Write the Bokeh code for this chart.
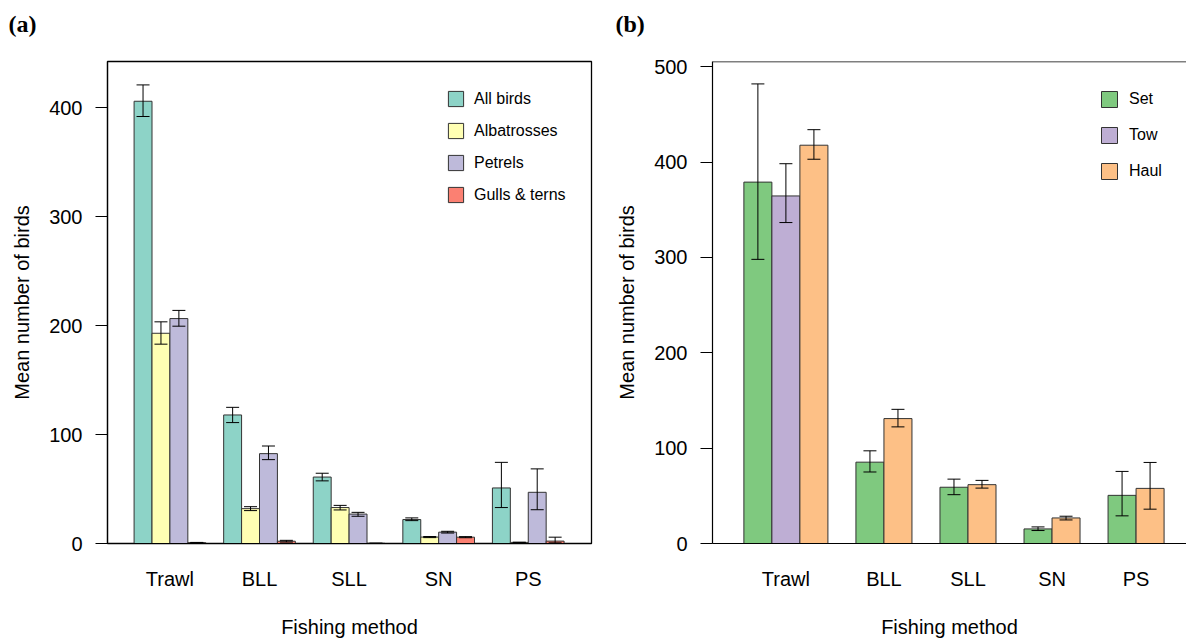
import math
from bokeh.plotting import figure
from bokeh.models import (Range1d, FixedTicker, Whisker, TeeHead, ColumnDataSource,
                          Span)
from bokeh.core.properties import value
from bokeh.layouts import row, column
from bokeh.embed import file_html
from bokeh.resources import INLINE

# ---------------- data: panel (a) ----------------
methods = ["Trawl", "BLL", "SLL", "SN", "PS"]
series_a = ["All birds", "Albatrosses", "Petrels", "Gulls & terns"]
colors_a = ["#8DD3C7", "#FFFFB3", "#BEBADA", "#FB8072"]

all_birds = [406, 118, 61, 22, 51]
all_birds_lo = [392, 111, 57.5, 21, 33]
all_birds_hi = [421, 125, 64.5, 23.5, 74.5]

albatrosses = [193, 32, 33, 5.9, 1.0]
albatrosses_lo = [183, 30.2, 30.8, 5.4, 0.8]
albatrosses_hi = [203.5, 33.8, 35, 6.4, 1.2]

petrels = [206.5, 82.5, 27, 10.4, 47]
petrels_lo = [199.5, 77, 25, 9.6, 31]
petrels_hi = [214, 89.5, 28.6, 11.2, 68.5]

gulls = [0.8, 2.1, 0.2, 5.8, 2.2]
gulls_lo = [0.6, 1.3, 0.1, 5.3, 0.6]
gulls_hi = [1.0, 2.9, 0.3, 6.3, 5.8]

# ---------------- data: panel (b) ----------------
series_b = ["Set", "Tow", "Haul"]
colors_b = ["#7FC97F", "#BEAED4", "#FDC086"]

set_vals = [379, 85.3, 59, 15.3, 50.5]
set_lo = [298, 75, 51.2, 13.6, 29]
set_hi = [482, 97.2, 67.5, 17.4, 75.6]

tow_vals = [364.5, None, None, None, None]
tow_lo = [336.6, None, None, None, None]
tow_hi = [398.3, None, None, None, None]

haul_vals = [417.7, 131, 61.7, 26.8, 57.8]
haul_lo = [403, 122.3, 58.1, 24.7, 36]
haul_hi = [434, 140.7, 66.2, 28.6, 85]

yticks_a = [0, 100, 200, 300, 400]
yticks_b = [0, 100, 200, 300, 400, 500]

panel_tags = ["(a)", "(b)"]

FONT = "Liberation Sans"
HEADER_H = 40
TOTAL_H = 640


def style_axes(p, yticks, centers):
    p.xgrid.visible = False
    p.ygrid.visible = False
    ya = p.yaxis[0]
    ya.ticker = FixedTicker(ticks=yticks)
    ya.minor_tick_line_color = None
    ya.major_tick_out = 12
    ya.major_tick_in = 0
    ya.major_tick_line_color = "black"
    ya.major_tick_line_width = 1.2
    ya.axis_line_color = "black"
    ya.axis_line_width = 1.2
    ya.major_label_standoff = 13
    ya.major_label_text_font = FONT
    ya.major_label_text_font_size = "20px"
    ya.major_label_text_color = "black"
    ya.axis_label = "Mean number of birds"
    ya.axis_label_text_font = FONT
    ya.axis_label_text_font_size = "20px"
    ya.axis_label_text_font_style = "normal"
    ya.axis_label_text_color = "black"
    ya.axis_label_standoff = 13

    xa = p.xaxis[0]
    xa.ticker = FixedTicker(ticks=centers)
    xa.major_label_overrides = {float(c): m for c, m in zip(centers, methods)}
    xa.major_tick_line_color = None
    xa.minor_tick_line_color = None
    xa.major_tick_out = 0
    xa.major_tick_in = 0
    xa.major_label_standoff = 24
    xa.major_label_text_font = FONT
    xa.major_label_text_font_size = "20px"
    xa.major_label_text_color = "black"
    xa.axis_label = "Fishing method"
    xa.axis_label_text_font = FONT
    xa.axis_label_text_font_size = "20px"
    xa.axis_label_text_font_style = "normal"
    xa.axis_label_text_color = "black"
    xa.axis_label_standoff = 23


def add_whiskers(p, xs, lo, hi):
    src = ColumnDataSource(dict(base=xs, lower=lo, upper=hi))
    w = Whisker(source=src, base="base", lower="lower", upper="upper",
                dimension="height", line_color="black", line_width=1,
                upper_head=TeeHead(size=13, line_color="black", line_width=1),
                lower_head=TeeHead(size=13, line_color="black", line_width=1),
                level="annotation")
    p.add_layout(w)


def header(width, tag, tag_x):
    # a bare strip holding the panel tag, in pixel-like coordinates (y downwards)
    h = figure(width=width, height=HEADER_H, output_backend="svg", toolbar_location=None,
               x_range=Range1d(0, width), y_range=Range1d(HEADER_H, 0),
               min_border=0, x_axis_type=None, y_axis_type=None)
    h.outline_line_color = None
    h.xgrid.visible = False
    h.ygrid.visible = False
    h.text(x=[tag_x], y=[23], text=[tag], text_font=value("Liberation Serif"),
           text_font_style="bold", text_font_size="24px", text_baseline="middle",
           text_align="left", text_color="black")
    return h


# ---------------- panel (a) ----------------
pa = figure(width=600, height=TOTAL_H - HEADER_H, output_backend="svg", toolbar_location=None,
            x_range=Range1d(-1.484, 25.53), y_range=Range1d(0, 442.5),
            min_border_left=107, min_border_right=9, min_border_top=61 - HEADER_H,
            min_border_bottom=95)
pa.outline_line_color = "black"
pa.outline_line_width = 1.3
pa.outline_line_alpha = 1.0
pa.background_fill_color = "white"

vals_a = [all_birds, albatrosses, petrels, gulls]
los_a = [all_birds_lo, albatrosses_lo, petrels_lo, gulls_lo]
his_a = [all_birds_hi, albatrosses_hi, petrels_hi, gulls_hi]
n_a = len(series_a)
centers_a = [g * (n_a + 1) + n_a / 2 for g in range(len(methods))]
for k, name in enumerate(series_a):
    xs = [g * (n_a + 1) + k + 0.5 for g in range(len(methods))]
    pa.vbar(x=xs, top=vals_a[k], bottom=0, width=1, fill_color=colors_a[k],
            line_color="#333333", line_width=1, legend_label=name)
    add_whiskers(pa, xs, los_a[k], his_a[k])

style_axes(pa, yticks_a, centers_a)
lg = pa.legend[0]
lg.location = (339, 339)
lg.padding = 0
lg.margin = 0
lg.spacing = 13
lg.glyph_height = 19
lg.glyph_width = 19
lg.label_height = 19
lg.label_standoff = 9
lg.border_line_color = None
lg.background_fill_alpha = 0
lg.label_text_font = FONT
lg.label_text_font_size = "16px"
lg.label_text_color = "black"

# ---------------- panel (b) ----------------
pb = figure(width=586, height=TOTAL_H - HEADER_H, output_backend="svg", toolbar_location=None,
            x_range=Range1d(-1.12, 15.80), y_range=Range1d(0, 505.5),
            min_border_left=112, min_border_right=0, min_border_top=61 - HEADER_H,
            min_border_bottom=95)
pb.outline_line_color = None
pb.background_fill_color = "white"

vals_b = [set_vals, tow_vals, haul_vals]
los_b = [set_lo, tow_lo, haul_lo]
his_b = [set_hi, tow_hi, haul_hi]
bar_x = {k: [] for k in range(len(series_b))}
bar_top = {k: [] for k in range(len(series_b))}
bar_lo = {k: [] for k in range(len(series_b))}
bar_hi = {k: [] for k in range(len(series_b))}
centers_b = []
pos = 0
for g in range(len(methods)):
    group_x = []
    for k in range(len(series_b)):
        v = vals_b[k][g]
        if v is None:
            continue
        xc = pos + 0.5
        bar_x[k].append(xc)
        bar_top[k].append(v)
        bar_lo[k].append(los_b[k][g])
        bar_hi[k].append(his_b[k][g])
        group_x.append(xc)
        pos += 1
    centers_b.append(sum(group_x) / len(group_x))
    pos += 1

for k, name in enumerate(series_b):
    pb.vbar(x=bar_x[k], top=bar_top[k], bottom=0, width=1, fill_color=colors_b[k],
            line_color="#333333", line_width=1, legend_label=name)
    add_whiskers(pb, bar_x[k], bar_lo[k], bar_hi[k])

style_axes(pb, yticks_b, centers_b)
pb.xaxis[0].axis_line_color = "black"
pb.xaxis[0].axis_line_width = 1.2
pb.add_layout(Span(location=505.5, dimension="width", line_color="black", line_width=1.3))

lg = pb.legend[0]
lg.location = (387, 362)
lg.padding = 0
lg.margin = 0
lg.spacing = 16
lg.glyph_height = 20
lg.glyph_width = 20
lg.label_height = 20
lg.label_standoff = 10
lg.border_line_color = None
lg.background_fill_alpha = 0
lg.label_text_font = FONT
lg.label_text_font_size = "16px"
lg.label_text_color = "black"

ha = header(600, panel_tags[0], 8)
hb = header(586, panel_tags[1], 15)

layout = column(row(ha, hb), row(pa, pb))
open("out.html", "w").write(file_html(layout, INLINE))
